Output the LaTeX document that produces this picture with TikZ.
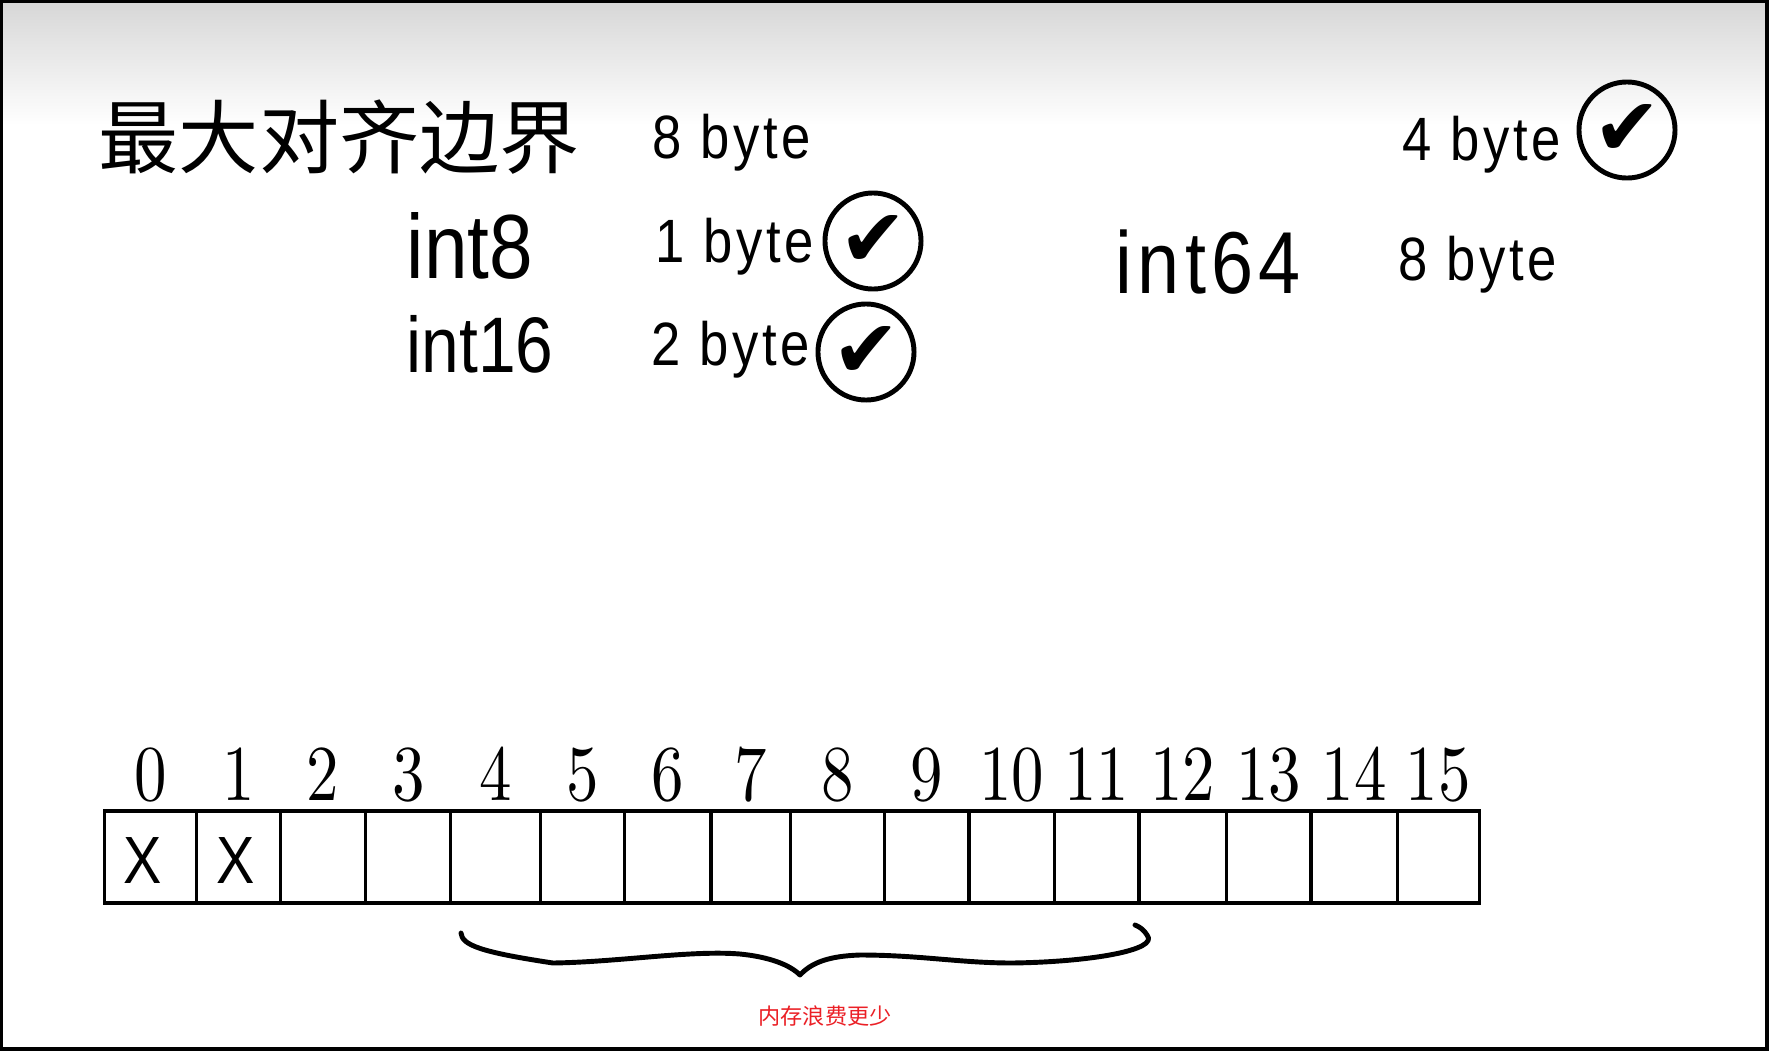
\documentclass[tikz,border=0pt]{standalone}
\usepackage{fontspec}
\newfontfamily\cjkfont{Noto Sans CJK SC}
\newfontfamily\handfont[FakeStretch=0.86]{Liberation Sans}
\newfontfamily\bytefont[FakeStretch=0.86, LetterSpace=6]{Liberation Sans}
\newfontfamily\numfont[FakeStretch=0.82]{lmroman10-regular.otf}
\newfontfamily\symfont{DejaVu Sans}
\definecolor{notered}{RGB}{235,32,38}

\begin{document}
\begin{tikzpicture}[x=0.01cm, y=-0.01cm,
  title/.style={anchor=base west, inner sep=0, font=\cjkfont\fontsize{22.8}{24}\selectfont},
  typ/.style={anchor=base west, inner sep=0, font=\handfont\fontsize{25.9}{28}\selectfont},
  size/.style={anchor=base west, inner sep=0, font=\bytefont\fontsize{17.4}{19}\selectfont},
  ok/.style={circle, draw, line width=1.4pt, minimum size=0.96cm, inner sep=0, font=\symfont\fontsize{23}{23}\selectfont},
  cell/.style={draw, line width=0.9pt, minimum height=0.92cm, inner sep=0},
  idx/.style={anchor=base, inner sep=0, font=\numfont\fontsize{22.5}{24}\selectfont},
  cross/.style={anchor=base, inner sep=0, font=\handfont\fontsize{19}{20}\selectfont},
  note/.style={anchor=base, inner sep=0, text=notered, font=\cjkfont\fontsize{6.3}{7}\selectfont}]

\useasboundingbox (0,0) rectangle (1769,1051);
\fill[white] (0,0) rectangle (1769,1051);
\shade[top color=black!16, bottom color=white] (0,0) rectangle (1769,125);
\draw[line width=0.035cm] (1.5,1.5) rectangle (1767,1049);

\node[title] (head) at (98,167) {最大对齐边界};
\node[size] (b8a) at (652,158) {8 byte};
\node[size] (b4) at (1402,160) {4 byte};
\node[ok] (ok4) at (1627,130) {✔};

\node[typ] (t8) at (406,278) {int8};
\node[size] (b1) at (655,262) {1 byte};
\node[ok] (ok1) at (873,241) {✔};
\node[typ, font=\handfont\fontsize{22.4}{24}\selectfont] (t16) at (406,372) {int16};
\node[size] (b2) at (651,365) {2 byte};
\node[ok] (ok2) at (866,352) {✔};

\node[typ, font=\bytefont\fontsize{25}{27}\selectfont] (t64) at (1115,293) {int64};
\node[size] (b8b) at (1398,280) {8 byte};

% memory cells 0..15
\foreach \l/\r [count=\i from 0] in {104.5/196.3, 196.3/280.5, 280.5/365.7, 365.7/450.9,
  450.9/540.7, 540.7/624.9, 624.9/711, 711/790.7, 790.7/884.4, 884.4/969, 969/1054.4,
  1054.4/1139, 1139/1226.4, 1226.4/1311, 1311/1397.3, 1397.3/1479.4}{
  \node[cell, minimum width={(\r-\l)*0.01cm}] (c\i) at ({(\l+\r)/2},857) {};
  \node[idx] (n\i) at ({(\l+\r)/2},800) {\i};
}
\node[cross] (x0) at (143,883) {X};
\node[cross] (x1) at (236,883) {X};

\draw[line width=1.4pt, line cap=round, line join=round] (461,933)
  .. controls (462,945) and (480,952) .. (553,963)
  .. controls (620,962) and (690,950) .. (740,954)
  .. controls (770,957) and (790,965) .. (800,975)
  .. controls (812,962) and (830,956) .. (860,955)
  .. controls (920,955) and (960,963) .. (1012,963)
  .. controls (1090,962) and (1160,950) .. (1147,935)
  .. controls (1144,930) and (1140,927) .. (1135,925);
\node[note] (waste) at (825,1024) {内存浪费更少};
\end{tikzpicture}
\end{document}
